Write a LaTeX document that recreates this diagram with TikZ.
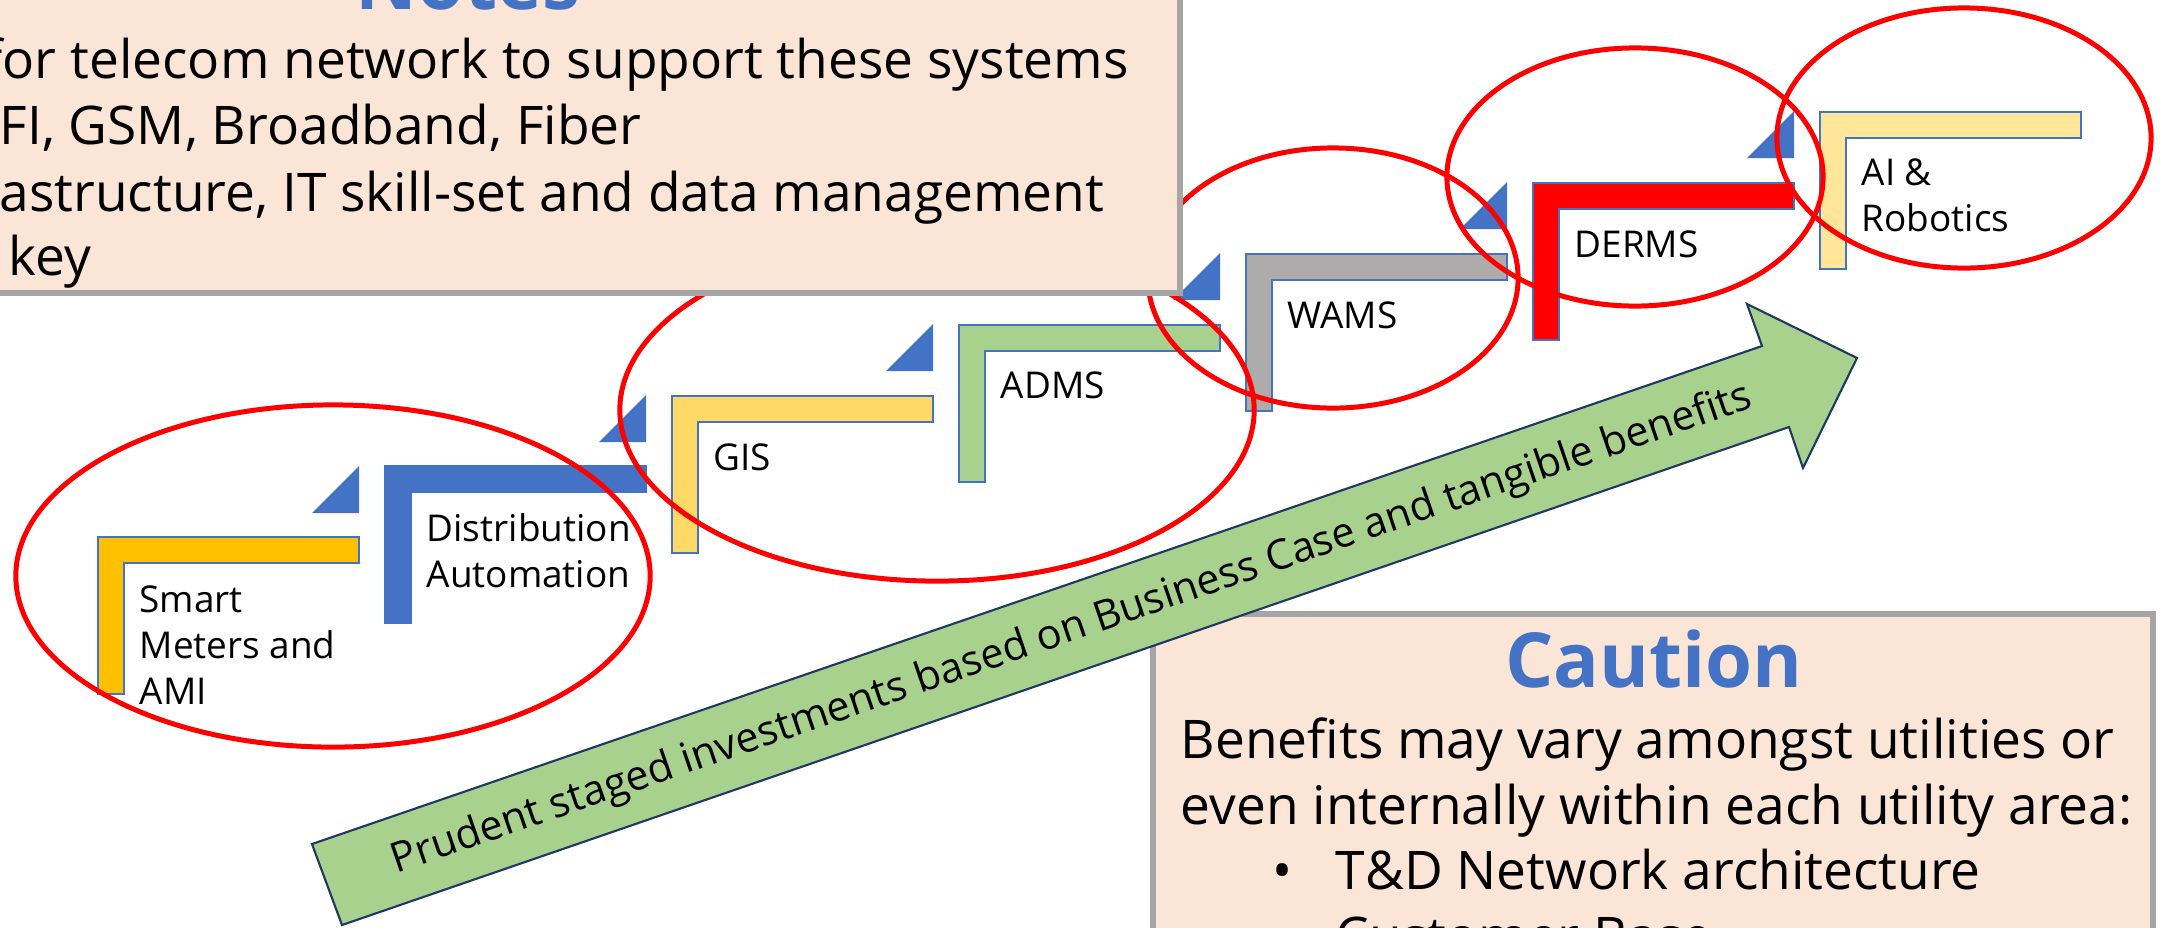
\documentclass[tikz,border=0pt]{standalone}
\usepackage{fontspec}
\setmainfont{Open Sans}
\definecolor{lblue}{HTML}{4472C4}
\definecolor{gold}{HTML}{FFC000}
\definecolor{gisyellow}{HTML}{FFD966}
\definecolor{admsgreen}{HTML}{A9D18E}
\definecolor{wamsgray}{HTML}{AEABAB}
\definecolor{dermsred}{HTML}{FF0000}
\definecolor{aiyellow}{HTML}{FFE699}
\definecolor{peach}{HTML}{FBE5D6}
\definecolor{panelgray}{HTML}{A5A5A5}
\definecolor{navy}{HTML}{1F3864}
\newcommand\stepL[3]{\filldraw[lshape, fill=#3] (#1,#2) -- ++(261,0) -- ++(0,26) -- ++(-235,0) -- ++(0,131) -- ++(-26,0) -- cycle;}
\newcommand\stepT[2]{\fill[tri] (#1,#2) -- ++(0,47) -- ++(-47,0) -- cycle;}
\begin{document}
\begin{tikzpicture}[x=0.01cm,y=-0.01cm,
  lshape/.style={draw=lblue, line width=0.6pt},
  tri/.style={fill=lblue},
  lbl/.style={anchor=base west, inner sep=0pt, font=\fontsize{10.5}{13.1}\selectfont},
  ring/.style={draw=dermsred, line width=1.42pt},
  panel/.style={fill=peach, draw=panelgray, line width=1.5pt},
  body/.style={anchor=base west, inner sep=0pt, font=\fontsize{15.15}{18.8}\selectfont},
  title/.style={anchor=base, inner sep=0pt, text=lblue, font=\bfseries\fontsize{21.6}{26}\selectfont},
  bigarrow/.style={fill=admsgreen, draw=navy, line width=0.6pt, line join=miter},
  arrowtext/.style={inner sep=0pt, font=\fontsize{11.8}{14}\selectfont, rotate=18.95}]
\useasboundingbox (0,0) rectangle (2167,927);
\clip (0,0) rectangle (2167,927);
\fill[white] (0,0) rectangle (2167,927);
% staircase
\stepL{98}{537}{gold}
\stepL{385}{466}{lblue}
\stepL{672}{396}{gisyellow}
\stepL{959}{325}{admsgreen}
\stepL{1246}{254}{wamsgray}
\stepL{1533}{183}{dermsred}
\stepL{1820}{112}{aiyellow}
\stepT{359}{466}
\stepT{646}{395}
\stepT{933}{324}
\stepT{1220}{253}
\stepT{1507}{182}
\stepT{1794}{111}
% labels
\node[lbl] (sm) at (139,612) {\parbox[t]{4cm}{Smart\\Meters and\\AMI}};
\node[lbl] (da) at (426,541) {\parbox[t]{4cm}{Distribution\\Automation}};
\node[lbl] (gis) at (713,470) {GIS};
\node[lbl] (adms) at (1000,398) {ADMS};
\node[lbl] (wams) at (1287,328) {WAMS};
\node[lbl] (derms) at (1574,257) {DERMS};
\node[lbl] (ai) at (1861,185) {\parbox[t]{4cm}{AI \&\\Robotics}};
% red rings
\draw[ring] (333,576) ellipse [x radius=3.17cm, y radius=1.71cm];
\draw[ring] (937,410) ellipse [x radius=3.17cm, y radius=1.71cm];
\draw[ring] (1333,278) ellipse [x radius=1.85cm, y radius=1.30cm];
\draw[ring] (1635,177) ellipse [x radius=1.88cm, y radius=1.29cm];
\draw[ring] (1964,138) ellipse [x radius=1.87cm, y radius=1.30cm];
% notes panel
\draw[panel] (-20,-20) rectangle (1180,293);
\node[title] (notes) at (468,9) {Notes};
\node[body] (n1) at (-16,78) {for telecom network to support these systems};
\node[body] (n2) at (-1,144) {FI, GSM, Broadband, Fiber};
\node[body] (n3) at (-1,211) {astructure, IT skill-set and data management};
\node[body] (n4) at (8,275) {key};
% caution panel
\draw[panel] (1153,614) rectangle (2153,980);
\node[title] (caution) at (1654,687) {Caution};
\node[body] (c1) at (1180,758) {\parbox[t]{12cm}{Benefits may vary amongst utilities or\\even internally within each utility area:}};
\node[body] (b1) at (1272,889) {•};
\node[body] (c3) at (1335,889) {T\&D Network architecture};
\node[body] (b2) at (1272,955) {•};
\node[body] (c4) at (1335,955) {Customer Base};
% big arrow
\filldraw[bigarrow] (312,844) -- (1762,346) -- (1747,304) -- (1857,358) -- (1803,468) -- (1789,427) -- (342,925) -- cycle;
\node[arrowtext] (prudent) at (1072,630) {Prudent staged investments based on Business Case and tangible benefits};
\end{tikzpicture}
\end{document}
